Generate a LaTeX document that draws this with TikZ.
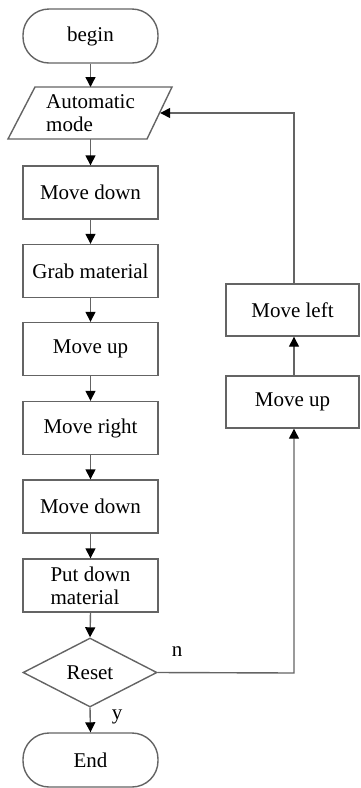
\documentclass[tikz,border=0pt]{standalone}
\usepackage{fontspec}
\setmainfont{Liberation Serif}
\usetikzlibrary{arrows.meta,shapes.geometric}
\definecolor{linegray}{RGB}{100,100,100}
\begin{document}
\begin{tikzpicture}[x=1pt,y=1pt,
  every node/.style={font=\rmfamily\fontsize{21}{23}\selectfont, text=black},
  box/.style={draw=linegray, line width=1.4pt, rectangle, minimum width=135pt, minimum height=53pt, inner sep=0pt},
  rbox/.style={box, minimum width=133pt, minimum height=52pt},
  term/.style={draw=linegray, line width=1.4pt, rectangle, rounded corners=26pt, minimum width=135pt, minimum height=54pt, inner sep=0pt},
  dec/.style={draw=linegray, line width=1.4pt, diamond, aspect=1.94, minimum width=134pt, minimum height=69pt, inner sep=0pt},
  conn/.style={draw=linegray, line width=1.4pt, -{Triangle[length=10pt,width=10pt,color=black]}},
  plain/.style={draw=linegray, line width=1.4pt},
  lbl/.style={inner sep=0pt}
]
\useasboundingbox (0,0) rectangle (360,-788);
\node[term] (begin) at (90.5,-36) {begin};
\node[lbl, align=left, minimum width=139pt, minimum height=52pt] (auto) at (90.5,-113) {Automatic\\mode};
\draw[plain] (35,-87) -- (172,-87) -- (147,-139) -- (8,-139) -- cycle;
\node[box] (md1) at (90.5,-192.5) {Move down};
\node[box] (grab) at (90.5,-271) {Grab material};
\node[box] (up1) at (90.5,-349) {Move up};
\node[box] (mr) at (90.5,-428) {Move right};
\node[box] (md2) at (90.5,-506.5) {Move down};
\node[box, align=left] (put) at (90.5,-585.5) {Put down\\material};
\node[dec] (reset) at (90,-672.5) {Reset};
\node[term] (end) at (90.5,-760) {End};
\node[rbox] (ml) at (292.5,-310) {Move left};
\node[rbox] (mu2) at (292.5,-402) {Move up};
\node[lbl] (n) at (177,-652) {n};
\node[lbl] (y) at (117,-717) {y};
\coordinate (c1) at (294,-673);
\coordinate (c2) at (294,-113);

\draw[conn] (begin.south) -- (90.5,-87);
\draw[conn] (90.5,-139) -- (md1.north);
\draw[conn] (md1) -- (grab);
\draw[conn] (grab) -- (up1);
\draw[conn] (up1) -- (mr);
\draw[conn] (mr) -- (md2);
\draw[conn] (md2) -- (put);
\draw[conn] (put.south) -- (reset.north);
\draw[conn] (reset.south) -- (end.north);
\draw[conn] (reset.east) -- (c1) -- (mu2.south -| c1);
\draw[conn] (mu2.north -| c1) -- (ml.south -| c1);
\draw[conn] (ml.north -| c2) -- (c2) -- (auto.east);
\end{tikzpicture}
\end{document}
